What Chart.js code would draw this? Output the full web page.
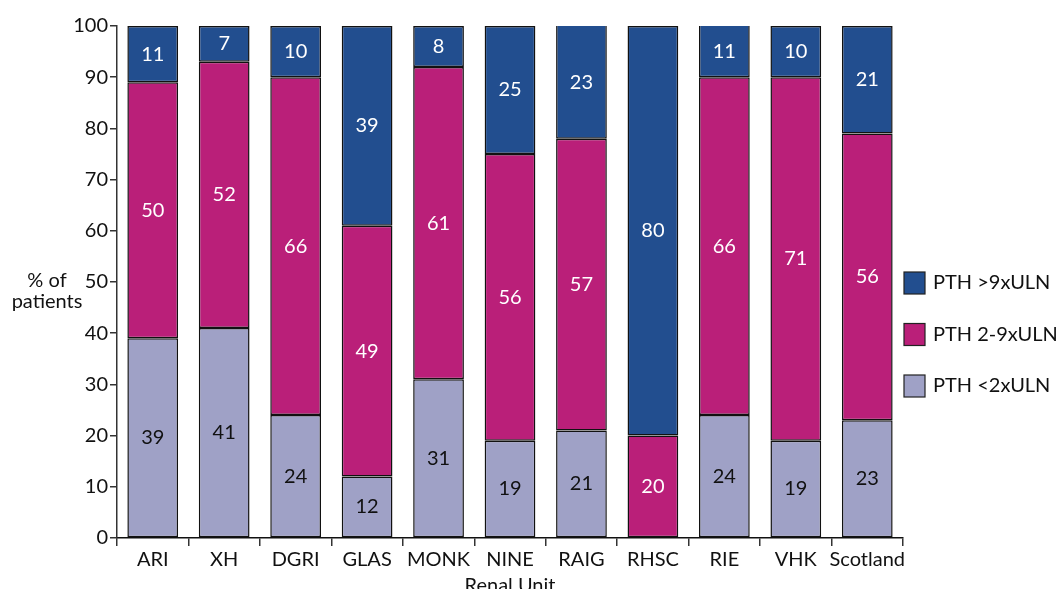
<!DOCTYPE html>
<html>
<head>
<meta charset="utf-8">
<script src="https://cdn.jsdelivr.net/npm/chart.js@4"></script>
<style>
  html, body { margin: 0; padding: 0; background: #fff; }
  #wrap { width: 1063px; height: 589px; }
</style>
</head>
<body>
<div id="wrap"><canvas id="pthChart" width="1063" height="589"></canvas></div>
<script>
// data
const units = ['ARI', 'XH', 'DGRI', 'GLAS', 'MONK', 'NINE', 'RAIG', 'RHSC', 'RIE', 'VHK', 'Scotland'];
const below2 = [39, 41, 24, 12, 31, 19, 21, 0, 24, 19, 23];
const from2to9 = [50, 52, 66, 49, 61, 56, 57, 20, 66, 71, 56];
const above9 = [11, 7, 10, 39, 8, 25, 23, 80, 11, 10, 21];
const yTicks = [0, 10, 20, 30, 40, 50, 60, 70, 80, 90, 100];

const FONT = 'Lato, "Open Sans", sans-serif';
const colLow = '#9fa1c6', colMid = '#ba1f79', colHigh = '#224e8f';

// numbers inside the bar segments
const segLabels = {
    id: 'segLabels',
    afterDatasetsDraw(chart) {
        const c = chart.ctx;
        c.save();
        c.font = '20px ' + FONT;
        c.textAlign = 'center';
        c.textBaseline = 'middle';
        chart.data.datasets.forEach((ds, i) => {
            const meta = chart.getDatasetMeta(i);
            meta.data.forEach((bar, j) => {
                const v = ds.data[j];
                if (!v) return;
                const top = Math.max(bar.y, chart.chartArea.top);
                c.fillStyle = i === 0 ? '#111' : '#fff';
                c.fillText(v, bar.x, (top + bar.base) / 2);
            });
        });
        c.restore();
    }
};

// y title and legend drawn beside the plot
const sideText = {
    id: 'sideText',
    afterDraw(chart) {
        const c = chart.ctx, a = chart.chartArea;
        c.save();
        c.font = '20px ' + FONT;
        c.fillStyle = '#111';
        c.textAlign = 'center';
        c.textBaseline = 'middle';
        c.fillText('% of', 47, 281);
        c.fillText('patients', 47, 302);

        const items = [['PTH >9xULN', colHigh], ['PTH 2-9xULN', colMid], ['PTH <2xULN', colLow]];
        c.textAlign = 'left';
        items.forEach((it, k) => {
            const y = 283 + k * 51.5;
            c.fillStyle = it[1];
            c.fillRect(a.right + 1, y - 11, 21, 22);
            c.strokeStyle = '#222';
            c.lineWidth = 1.2;
            c.strokeRect(a.right + 1, y - 11, 21, 22);
            c.fillStyle = '#111';
            c.fillText(it[0], a.right + 30, y);
        });
        c.restore();
    }
};

const ds = (label, data, color) => ({
    label, data,
    backgroundColor: color,
    borderColor: '#111',
    borderWidth: 1.5,
    borderSkipped: false,
    barPercentage: 0.71,
    categoryPercentage: 1
});

new Chart(document.getElementById('pthChart'), {
    type: 'bar',
    data: {
        labels: units,
        datasets: [
            ds('PTH <2xULN', below2, colLow),
            ds('PTH 2-9xULN', from2to9, colMid),
            ds('PTH >9xULN', above9, colHigh)
        ]
    },
    options: {
        responsive: false,
        animation: false,
        layout: { padding: { top: 26, right: 160, left: 0, bottom: 0 } },
        plugins: { legend: { display: false }, tooltip: { enabled: false } },
        scales: {
            x: {
                stacked: true,
                grid: { display: true, drawOnChartArea: false, offset: true, tickLength: 8, color: '#333', lineWidth: 1.5 },
                border: { color: '#111', width: 1.5 },
                ticks: { color: '#111', font: { family: FONT, size: 20 }, padding: 2, maxRotation: 0, autoSkip: false },
                title: { display: true, text: 'Renal Unit', color: '#111', font: { family: FONT, size: 20 }, padding: { top: 0, bottom: -9 } },
                afterFit(s) { s.height = 51; }
            },
            y: {
                stacked: true,
                min: 0, max: 100,
                afterBuildTicks(s) { s.ticks = yTicks.map(v => ({ value: v })); },
                grid: { display: true, drawOnChartArea: false, tickLength: 7, color: '#333', lineWidth: 1.5 },
                border: { color: '#333', width: 1.5 },
                ticks: { color: '#111', font: { family: FONT, size: 20 }, padding: 2 },
                afterFit(s) { s.width = 117; }
            }
        }
    },
    plugins: [segLabels, sideText]
});
</script>
</body>
</html>
